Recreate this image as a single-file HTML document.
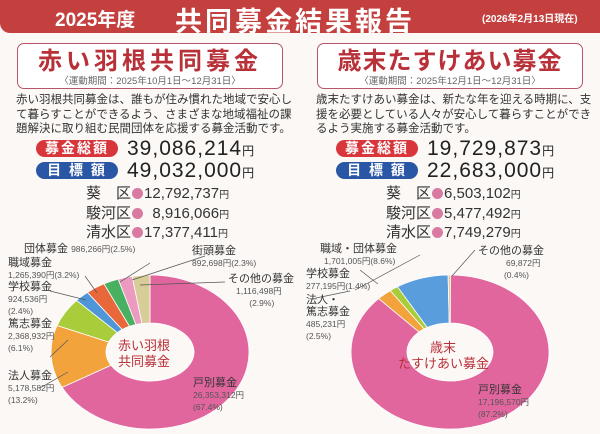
<!DOCTYPE html>
<html><head><meta charset="utf-8"><style>
*{margin:0;padding:0;box-sizing:border-box}
body{width:600px;height:434px;overflow:hidden;background:#fbf8f6;font-family:"Liberation Sans","Noto Sans CJK JP",sans-serif;position:relative;color:#333}
.abs{position:absolute;white-space:nowrap}
.hdr{position:absolute;left:0;top:0;width:600px;height:33px;background:#c4403e;border-bottom-left-radius:10px}
.tbox{position:absolute;top:43px;width:266px;height:46px;border:1.5px solid #b5566a;border-radius:7px;background:#fff}
.tt{position:absolute;left:0;right:0;top:4px;text-align:center;color:#b83038;font-size:24px;line-height:28px;font-weight:bold;letter-spacing:4px}
.ts{position:absolute;left:0;right:0;top:32px;text-align:center;color:#666;font-size:9.5px;line-height:11px}
.body{font-size:11.5px;line-height:14.5px;color:#333}
.pill{position:absolute;width:82px;height:17px;border-radius:9px;color:#fff;font-size:14px;font-weight:bold;text-align:center;line-height:17px;letter-spacing:2px}
.num{font-size:21px;line-height:22px;color:#222;letter-spacing:1px}
.num small{font-size:12px}
.dist{font-size:15px;color:#333;line-height:17.5px}
.dot{display:inline-block;width:11px;height:11px;border-radius:50%;background:#d97aa2;margin:0 1px;vertical-align:-1px}
.lab{font-size:11px;color:#333;line-height:12px}
.sm{font-size:8.5px;color:#555;line-height:11px}
</style></head><body>
<div class="hdr"></div>
<div class="abs" style="left:55px;top:5px;color:#fff;font-size:19px;font-weight:bold">2025年度</div>
<div class="abs" style="left:175px;top:0px;color:#fff;font-size:27px;font-weight:bold;letter-spacing:3px">共同募金結果報告</div>
<div class="abs" style="left:482px;top:10px;color:#fff;font-size:10px;font-weight:bold">(2026年2月13日現在)</div>

<div class="tbox" style="left:17px"><div class="tt">赤い羽根共同募金</div><div class="ts">〈運動期間：2025年10月1日〜12月31日〉</div></div>
<div class="tbox" style="left:317px"><div class="tt" style="letter-spacing:1px">歳末たすけあい募金</div><div class="ts">〈運動期間：2025年12月1日〜12月31日〉</div></div>

<div class="abs body" style="left:16px;top:93px">赤い羽根共同募金は、誰もが住み慣れた地域で安心し<br>て暮らすことができるよう、さまざまな地域福祉の課<br>題解決に取り組む民間団体を応援する募金活動です。</div>
<div class="abs body" style="left:316px;top:93px">歳末たすけあい募金は、新たな年を迎える時期に、支<br>援を必要としている人々が安心して暮らすことができ<br>るよう実施する募金活動です。</div>

<div class="pill" style="left:36px;top:140px;background:#d9363c">募金総額</div>
<div class="pill" style="left:36px;top:162px;background:#2a56a6">目 標 額</div>
<div class="abs num" style="left:127px;top:138px">39,086,214<small>円</small></div>
<div class="abs num" style="left:127px;top:160px">49,032,000<small>円</small></div>
<div class="pill" style="left:336px;top:140px;background:#d9363c">募金総額</div>
<div class="pill" style="left:336px;top:162px;background:#2a56a6">目 標 額</div>
<div class="abs num" style="left:427px;top:138px">19,729,873<small>円</small></div>
<div class="abs num" style="left:427px;top:160px">22,683,000<small>円</small></div>

<div class="abs dist" style="left:86px;top:185px">葵　区<span class="dot"></span>12,792,737<small style="font-size:10px">円</small><br>駿河区<span class="dot"></span>&nbsp;&nbsp;8,916,066<small style="font-size:10px">円</small><br>清水区<span class="dot"></span>17,377,411<small style="font-size:10px">円</small></div>
<div class="abs dist" style="left:386px;top:185px">葵　区<span class="dot"></span>6,503,102<small style="font-size:10px">円</small><br>駿河区<span class="dot"></span>5,477,492<small style="font-size:10px">円</small><br>清水区<span class="dot"></span>7,749,279<small style="font-size:10px">円</small></div>

<svg id="s" class="abs" style="left:0;top:0" width="600" height="434"></svg>

<div class="abs lab" style="left:24px;top:243px">団体募金 <span class="sm">986,266円(2.5%)</span></div>
<div class="abs lab" style="left:8px;top:257px">職域募金<br><span class="sm">1,265,390円(3.2%)</span></div>
<div class="abs lab" style="left:8px;top:281px">学校募金<br><span class="sm">924,536円<br>(2.4%)</span></div>
<div class="abs lab" style="left:8px;top:318px">篤志募金<br><span class="sm">2,368,932円<br>(6.1%)</span></div>
<div class="abs lab" style="left:8px;top:370px">法人募金<br><span class="sm">5,178,582円<br>(13.2%)</span></div>
<div class="abs lab" style="left:192px;top:245px">街頭募金<br><span class="sm">892,698円(2.3%)</span></div>
<div class="abs lab" style="left:228px;top:273px">その他の募金<br><span class="sm" style="padding-left:8px">1,116,498円<br>&nbsp;&nbsp;&nbsp;&nbsp;&nbsp;&nbsp;&nbsp;&nbsp;&nbsp;(2.9%)</span></div>
<div class="abs lab" style="left:193px;top:377px">戸別募金<br><span class="sm">26,353,312円<br>(67.4%)</span></div>
<div class="abs" style="left:118px;top:338px;color:#b83038;font-size:13px;line-height:16px;text-align:center">赤い羽根<br>共同募金</div>

<div class="abs lab" style="left:320px;top:243px">職域・団体募金<br><span class="sm" style="padding-left:4px">1,701,005円(8.6%)</span></div>
<div class="abs lab" style="left:306px;top:268px">学校募金<br><span class="sm">277,195円(1.4%)</span></div>
<div class="abs lab" style="left:306px;top:294px">法人・<br>篤志募金<br><span class="sm">485,231円<br>(2.5%)</span></div>
<div class="abs lab" style="left:478px;top:245px">その他の募金<br><span class="sm" style="padding-left:28px">69,872円<br>&nbsp;&nbsp;&nbsp;&nbsp;&nbsp;&nbsp;&nbsp;&nbsp;&nbsp;&nbsp;&nbsp;(0.4%)</span></div>
<div class="abs lab" style="left:478px;top:384px">戸別募金<br><span class="sm">17,196,570円<br>(87.2%)</span></div>
<div class="abs" style="left:398px;top:340px;color:#b83038;font-size:13px;line-height:16px;text-align:center;width:90px">歳末<br>たすけあい募金</div>

<script>
var s=document.getElementById('s'),h='';
function donut(cx,cy,rx,ry,ix,iy,data){
 var a=0;
 data.forEach(function(d){
  var a0=a*2*Math.PI/100,a1=(a+d[0])*2*Math.PI/100;a+=d[0];
  function p(r1,r2,t){return [(cx+r1*Math.sin(t)).toFixed(1),(cy-r2*Math.cos(t)).toFixed(1)]}
  var la=d[0]>50?1:0,o0=p(rx,ry,a0),o1=p(rx,ry,a1),i1=p(ix,iy,a1),i0=p(ix,iy,a0);
  h+='<path d="M'+o0+' A'+rx+' '+ry+' 0 '+la+' 1 '+o1+' L'+i1+' A'+ix+' '+iy+' 0 '+la+' 0 '+i0+'Z" fill="'+d[1]+'" stroke="#fff" stroke-width="0.8"/>';
 });
}
donut(150,352,99,77,44,29,[[67.4,'#e2669e'],[13.2,'#f2a33c'],[6.1,'#a8cc3a'],[2.4,'#4f96d8'],[3.2,'#e8683c'],[2.5,'#48b060'],[2.3,'#ec9ac0'],[2.9,'#d8cc98']]);
donut(450,352,99,77,43,29,[[87.2,'#e2669e'],[2.5,'#f2a33c'],[1.4,'#a8cc3a'],[8.6,'#5a9ddc'],[0.4,'#d8cc98']]);
var L=[[150,263,120,282],[85,276,97,293],[50,291,86,300],[50,357,68,340],[40,388,68,372],[205,256,132,280],[225,282,140,285],[420,255,355,290],[360,270,378,284],[316,298,350,291],[475,250,452,276]];
L.forEach(function(l){h+='<line x1="'+l[0]+'" y1="'+l[1]+'" x2="'+l[2]+'" y2="'+l[3]+'" stroke="#555" stroke-width="0.7"/>'});
s.innerHTML=h;
</script>
</body></html>
